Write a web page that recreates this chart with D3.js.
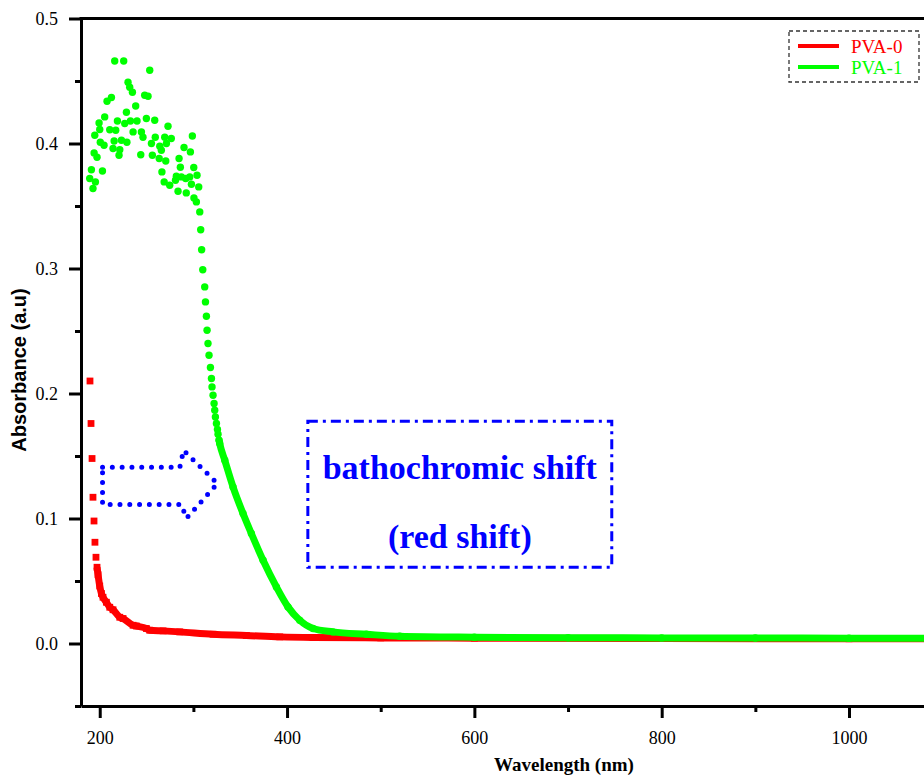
<!DOCTYPE html>
<html lang="en">
  <head>
    <meta charset="utf-8">
    <title>Absorbance of PVA-0 and PVA-1</title>
    <script src="https://cdnjs.cloudflare.com/ajax/libs/d3/7.8.5/d3.min.js"></script>
    <style>
      body { margin: 0; background: #fff; }
      svg { display: block; overflow: hidden; }
    </style>
  </head>
  <body>
    <script>
      // PVA-0 (red squares): sharp edge below 198 nm, then a dense run of points
      const pva0Scatter = [
        [189.6, 0.210], [190.7, 0.176], [191.8, 0.148], [192.8, 0.117],
        [193.9, 0.098], [194.9, 0.081], [196.0, 0.069], [197.1, 0.061]
      ];
      const pva0Curve = [
        [198.2, 0.055], [200.0, 0.046], [201.8, 0.040], [203.5, 0.037], [207.1, 0.033],
        [210.7, 0.029], [214.2, 0.027], [221.4, 0.021], [224.9, 0.020], [235.6, 0.0146],
        [239.1, 0.0140], [249.8, 0.0120], [253.4, 0.0106], [267.6, 0.0101], [285.4, 0.0093],
        [321.0, 0.0074], [356.6, 0.0064], [392.2, 0.0053], [427.7, 0.0048], [500, 0.0045],
        [600, 0.0043], [800, 0.0040], [1000, 0.0038], [1100, 0.0037]
      ];

      // PVA-1 (green circles): noisy plateau, steep edge, then a dense tail
      const pva1Scatter = [
        [189.3, 0.372], [191.1, 0.379], [192.8, 0.364], [194.0, 0.3925], [194.7, 0.4066],
        [195.4, 0.3693], [197.1, 0.389], [199.3, 0.4165], [200.0, 0.4112], [200.6, 0.401],
        [202.9, 0.378], [204.6, 0.3986], [205.3, 0.4213], [207.8, 0.4338], [210.7, 0.411],
        [212.5, 0.4368], [214.2, 0.396], [215.4, 0.402], [216.0, 0.466], [217.1, 0.4106],
        [218.9, 0.418], [220.6, 0.3906], [221.4, 0.395], [223.2, 0.4026], [225.6, 0.466],
        [226.7, 0.416], [228.5, 0.425], [229.0, 0.401], [230.2, 0.449], [232.0, 0.445],
        [232.8, 0.418], [234.9, 0.441], [235.6, 0.4093], [238.4, 0.430], [239.8, 0.418],
        [243.8, 0.391], [244.5, 0.4093], [246.2, 0.405], [248.0, 0.4386], [249.8, 0.420],
        [251.6, 0.4378], [253.4, 0.4586], [255.2, 0.400], [256.2, 0.3906], [258.7, 0.4186],
        [259.3, 0.405], [263.5, 0.388], [264.1, 0.3978], [265.8, 0.3946], [266.4, 0.3773],
        [268.8, 0.3693], [269.4, 0.405], [270.5, 0.386], [271.2, 0.400], [272.9, 0.4138],
        [274.7, 0.3666], [276.4, 0.404], [280.9, 0.3706], [281.8, 0.3738], [283.6, 0.3618],
        [284.7, 0.388], [286.1, 0.381], [287.2, 0.3733], [290.0, 0.3968], [291.8, 0.372],
        [292.4, 0.3605], [296.1, 0.3733], [296.8, 0.3933], [297.9, 0.3674], [298.9, 0.406],
        [300.4, 0.3808], [300.6, 0.3565], [303.2, 0.3533], [303.9, 0.3746], [305.7, 0.3653],
        [306.8, 0.3453], [307.8, 0.331], [308.8, 0.315], [310.0, 0.299], [312.1, 0.2853],
        [312.9, 0.2733], [313.9, 0.2618], [314.6, 0.2506], [315.6, 0.240], [316.7, 0.2306],
        [318.2, 0.2208], [319.3, 0.212], [319.9, 0.2053], [321.0, 0.1986], [322.1, 0.192],
        [322.8, 0.1866], [323.5, 0.1813], [324.6, 0.176], [325.7, 0.1712], [326.3, 0.1674],
        [327.4, 0.1626]
      ];
      const pva1Curve = [
        [328.1, 0.160], [333.5, 0.1466], [342.3, 0.1253], [353.0, 0.104], [361.9, 0.088],
        [374.4, 0.0666], [388.6, 0.0453], [401.0, 0.0293], [413.5, 0.0186], [427.7, 0.012],
        [449.0, 0.0093], [484.7, 0.0074], [520.3, 0.0058], [600, 0.0050], [700, 0.0046],
        [800, 0.0045], [900, 0.0044], [1000, 0.0043], [1100, 0.0042]
      ];

      const seriesNames = ["PVA-0", "PVA-1"];
      const seriesColors = ["#ff0000", "#00ff00"];

      const xMajor = [200, 400, 600, 800, 1000];
      const xMinor = [300, 500, 700, 900];
      const yMajor = [0.0, 0.1, 0.2, 0.3, 0.4, 0.5];
      const yMinor = [-0.05, 0.05, 0.15, 0.25, 0.35, 0.45];

      // annotation: hollow dotted arrow and dash-dot box (data units)
      const arrowPts = [
        [203, 0.141], [285.5, 0.141], [289.5, 0.1545], [325.7, 0.128],
        [292.6, 0.1002], [287, 0.1113], [203, 0.1113]
      ];
      const noteBox = [[422.2, 0.1778], [746.7, 0.0610]];
      const noteLines = ["bathochromic shift", "(red shift)"];

      const serif = "'Liberation Serif', 'Times New Roman', serif";
      const w = 924, h = 776;

      const x = d3.scaleLinear().domain([180, 1100]).range([81, 81 + 920 * 0.9366]);
      const y = d3.scaleLinear().domain([-0.05, 0.5]).range([706, 18.5]);

      const svg = d3.select("body").append("svg")
                    .attr("width", w)
                    .attr("height", h);

      svg.append("defs").append("clipPath").attr("id", "plot")
         .append("rect")
         .attr("x", x(180)).attr("y", y(0.5))
         .attr("width", x(1100) - x(180)).attr("height", y(-0.05) - y(0.5));

      const plot = svg.append("g").attr("clip-path", "url(#plot)");

      const band = d3.line().x(d => x(d[0])).y(d => y(d[1])).curve(d3.curveMonotoneX);

      // PVA-0
      plot.append("path")
          .datum([pva0Scatter[pva0Scatter.length - 1]].concat(pva0Curve))
          .attr("d", band)
          .attr("fill", "none")
          .attr("stroke", seriesColors[0])
          .attr("stroke-width", 7);
      plot.selectAll("rect.p0")
          .data(pva0Scatter.concat(pva0Curve))
          .enter().append("rect")
          .attr("class", "p0")
          .attr("x", d => x(d[0]) - 3.4)
          .attr("y", d => y(d[1]) - 3.4)
          .attr("width", 6.8)
          .attr("height", 6.8)
          .attr("fill", seriesColors[0]);

      // PVA-1
      plot.append("path")
          .datum([pva1Scatter[pva1Scatter.length - 1]].concat(pva1Curve))
          .attr("d", band)
          .attr("fill", "none")
          .attr("stroke", seriesColors[1])
          .attr("stroke-width", 7)
          .attr("stroke-linecap", "round");
      plot.selectAll("circle.p1")
          .data(pva1Scatter.concat(pva1Curve))
          .enter().append("circle")
          .attr("class", "p1")
          .attr("cx", d => x(d[0]))
          .attr("cy", d => y(d[1]))
          .attr("r", 3.7)
          .attr("fill", seriesColors[1]);

      // arrow
      svg.append("path")
         .datum(arrowPts)
         .attr("d", d3.line().x(d => x(d[0])).y(d => y(d[1])).curve(d3.curveLinearClosed))
         .attr("fill", "none")
         .attr("stroke", "#0000ff")
         .attr("stroke-width", 5)
         .attr("stroke-linecap", "round")
         .attr("stroke-dasharray", "0 9.8");

      // note box
      svg.append("rect")
         .attr("x", x(noteBox[0][0]))
         .attr("y", y(noteBox[0][1]))
         .attr("width", x(noteBox[1][0]) - x(noteBox[0][0]))
         .attr("height", y(noteBox[1][1]) - y(noteBox[0][1]))
         .attr("fill", "none")
         .attr("stroke", "#0000ff")
         .attr("stroke-width", 3)
         .attr("stroke-dasharray", "10 5 3 5");

      const cx = (x(noteBox[0][0]) + x(noteBox[1][0])) / 2;
      svg.selectAll("text.note")
         .data(noteLines)
         .enter().append("text")
         .attr("class", "note")
         .attr("x", cx)
         .attr("y", (d, i) => 479 + i * 69)
         .attr("text-anchor", "middle")
         .style("font-family", serif)
         .style("font-weight", "bold")
         .style("font-size", "34px")
         .style("fill", "#0000ff")
         .text(d => d);

      // axes
      const xAxis = svg.append("g")
         .attr("transform", "translate(0," + y(-0.05) + ")")
         .call(d3.axisBottom(x).tickValues(xMajor).tickSize(12).tickSizeOuter(0).tickPadding(13)
                 .tickFormat(d3.format("d")));
      const xMinorAxis = svg.append("g")
         .attr("transform", "translate(0," + y(-0.05) + ")")
         .call(d3.axisBottom(x).tickValues(xMinor).tickSize(6).tickFormat(""));

      const yAxis = svg.append("g")
         .attr("transform", "translate(" + x(180) + ",0)")
         .call(d3.axisLeft(y).tickValues(yMajor).tickSize(12).tickSizeOuter(0).tickPadding(11)
                 .tickFormat(d3.format(".1f")));
      const yMinorAxis = svg.append("g")
         .attr("transform", "translate(" + x(180) + ",0)")
         .call(d3.axisLeft(y).tickValues(yMinor).tickSize(6).tickFormat(""));

      xMinorAxis.select(".domain").remove();
      yMinorAxis.select(".domain").remove();

      [xAxis, yAxis, xMinorAxis, yMinorAxis].forEach(g => {
        g.selectAll("path, line").attr("stroke", "#000").attr("stroke-width", 3);
      });
      [xAxis, yAxis].forEach(g => {
        g.attr("font-family", serif).attr("font-size", 18);
        g.selectAll("text").attr("font-family", serif).attr("font-size", 18).attr("fill", "#000");
      });

      // top and right frame
      svg.append("line")
         .attr("x1", x(180) - 1.5).attr("x2", x(1100))
         .attr("y1", y(0.5)).attr("y2", y(0.5))
         .attr("stroke", "#000").attr("stroke-width", 3);
      svg.append("line")
         .attr("x1", x(1100)).attr("x2", x(1100))
         .attr("y1", y(0.5)).attr("y2", y(-0.05))
         .attr("stroke", "#000").attr("stroke-width", 3);

      // axis titles
      svg.append("text")
         .attr("x", 564)
         .attr("y", 771)
         .attr("text-anchor", "middle")
         .style("font-family", serif)
         .style("font-weight", "bold")
         .style("font-size", "19px")
         .text("Wavelength (nm)");

      svg.append("text")
         .attr("transform", "translate(26,370) rotate(-90)")
         .attr("text-anchor", "middle")
         .style("font-family", "'Liberation Sans', Arial, sans-serif")
         .style("font-weight", "bold")
         .style("font-size", "20px")
         .text("Absorbance (a.u)");

      // legend
      const legend = svg.append("g").attr("transform", "translate(789,31)");
      legend.append("rect")
            .attr("width", 130).attr("height", 51)
            .attr("fill", "#fff")
            .attr("stroke", "#333")
            .attr("stroke-width", 1.3)
            .attr("stroke-dasharray", "4 3");
      seriesNames.forEach((name, i) => {
        legend.append("line")
              .attr("x1", 9).attr("x2", 50)
              .attr("y1", 15 + i * 21).attr("y2", 15 + i * 21)
              .attr("stroke", seriesColors[i])
              .attr("stroke-width", 4);
        legend.append("text")
              .attr("x", 62)
              .attr("y", 22 + i * 21)
              .style("font-family", serif)
              .style("font-size", "19px")
              .style("fill", seriesColors[i])
              .text(name);
      });
    </script>
  </body>
</html>
